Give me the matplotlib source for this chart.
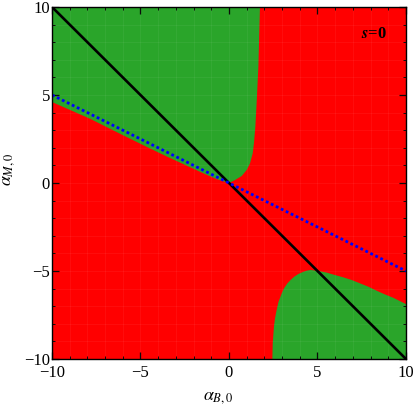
import numpy as np
import matplotlib
matplotlib.use("Agg")
import matplotlib.pyplot as plt

plt.rcParams['font.family'] = ['Liberation Serif', 'DejaVu Serif']
plt.rcParams['mathtext.fontset'] = 'stix'

# region boundaries (alpha_B, alpha_M)
upper_lower_x = [-10, -7.85, -6.0, -4.5, -3.33, -2.2, -1.45, -0.7, 0]
upper_lower_y = [4.60, 3.65, 2.72, 1.98, 1.42, 0.90, 0.55, 0.22, 0]
upper_right_x = [0, 0.34, 0.72, 1.0, 1.19, 1.34, 1.41, 1.49, 1.57, 1.66, 1.71, 1.75]
upper_right_y = [0, 0.17, 0.40, 0.74, 1.12, 1.69, 2.26, 3.2, 4.72, 6.6, 8.5, 10]
lower_x = [2.45, 2.47, 2.54, 2.60, 2.69, 2.80, 2.98, 3.11, 3.30, 3.48, 3.69, 3.92, 4.16,
           4.39, 4.61, 5.05, 5.52, 5.99, 6.46, 6.93, 7.40, 7.87, 8.34, 8.81, 9.28, 10]
lower_y = [-10, -9.11, -8.16, -7.69, -7.22, -6.74, -6.27, -5.98, -5.70, -5.51, -5.32, -5.17, -5.06,
           -4.98, -4.94, -5.00, -5.09, -5.23, -5.36, -5.51, -5.70, -5.89, -6.12, -6.33, -6.52, -6.88]

# straight lines alpha_M = k * alpha_B
black_slope = -1.0
blue_slope = -0.5

RED = '#ff0000'
GREEN = '#2aa52a'

fig = plt.figure(figsize=(4.15, 4.09), dpi=100)
ax = fig.add_axes([0.1253, 0.1222, 0.8530, 0.8607])
ax.set_xlim(-10, 10)
ax.set_ylim(-10, 10)
ax.set_facecolor(RED)

# upper-left green wedge
px = [-10] + upper_lower_x + upper_right_x + [-10]
py = [10] + upper_lower_y + upper_right_y + [10]
ax.fill(px, py, color=GREEN, lw=0, zorder=1)

# lower-right green region
qx = lower_x + [10]
qy = lower_y + [-10]
ax.fill(qx, qy, color=GREEN, lw=0, zorder=1)

# faint mesh lines like the original rendering
for v in np.arange(-9, 10):
    ax.axvline(v, color='white', lw=0.6, alpha=0.06, zorder=2)
    ax.axhline(v, color='white', lw=0.6, alpha=0.06, zorder=2)

xs = np.array([-10, 10])
ax.plot(xs, black_slope * xs, color='black', lw=1.9, zorder=3)
ax.plot(xs, blue_slope * xs, color='#0000ff', lw=2.0, ls=(0, (1, 1)), zorder=4)

ax.set_xticks([-10, -5, 0, 5, 10])
ax.set_yticks([-10, -5, 0, 5, 10])
ax.set_xticklabels(['\u221210', '\u22125', '0', '5', '10'])
ax.set_yticklabels(['\u221210', '\u22125', '0', '5', '10'])
ax.set_xticks(np.arange(-10, 11, 1), minor=True)
ax.set_yticks(np.arange(-10, 11, 1), minor=True)
ax.tick_params(which='both', direction='in', top=True, right=True, color='black', labelsize=12)
ax.tick_params(which='major', length=5, width=0.9)
ax.tick_params(which='minor', length=2.5, width=0.7)
ax.tick_params(axis='x', which='major', pad=4.5)
ax.tick_params(axis='y', which='major', pad=1.5)
for s in ax.spines.values():
    s.set_linewidth(1.0)
    s.set_zorder(5)

ax.set_xlabel(r'$\alpha_{B,0}$', fontsize=13)
ax.set_ylabel(r'$\alpha_{M,0}$', fontsize=13)
ax.xaxis.set_label_coords(0.47, -0.085)
ax.yaxis.set_label_coords(-0.1, 0.54)
ax.text(0.946, 0.922, r'$\boldsymbol{s}$=0', transform=ax.transAxes, ha='right', va='center',
        fontsize=12, fontweight='bold', zorder=6)

fig.savefig('out.png', dpi=100)
